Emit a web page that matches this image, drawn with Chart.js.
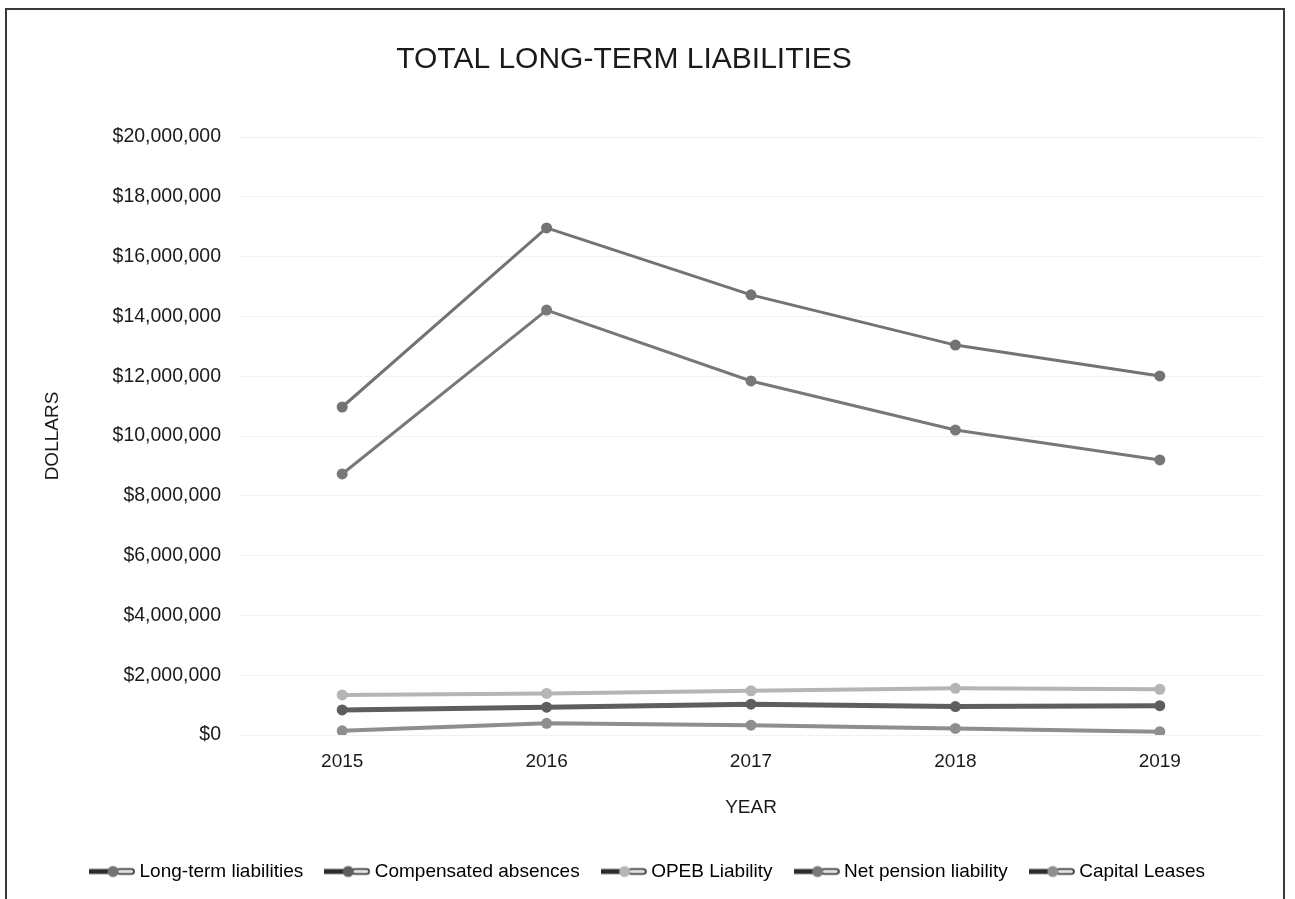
<!DOCTYPE html>
<html>
<head>
<meta charset="utf-8">
<title>Total Long-Term Liabilities</title>
<script src="https://cdn.jsdelivr.net/npm/chart.js@4.4.1/dist/chart.umd.min.js"></script>
<style>
  html, body { margin: 0; padding: 0; background: #fff; overflow: hidden; }
  #frame { position: absolute; left: 5px; top: 8px; width: 1276px; height: 900px; border: 2px solid #3a3a3a; }
  canvas { display: block; }
</style>
</head>
<body>
<div id="frame"><canvas id="liabChart" width="1276" height="889"></canvas></div>
<script>
// data (dollars)
const years = ['2015', '2016', '2017', '2018', '2019'];
const longTerm     = [10970000, 16960000, 14720000, 13040000, 12010000];
const compensated  = [840000, 930000, 1030000, 950000, 980000];
const opeb         = [1340000, 1390000, 1480000, 1560000, 1530000];
const netPension   = [8730000, 14210000, 11840000, 10200000, 9200000];
const capitalLease = [140000, 390000, 330000, 220000, 110000];
const yTickValues  = [0, 2000000, 4000000, 6000000, 8000000, 10000000, 12000000, 14000000, 16000000, 18000000, 20000000];

const FONT = "'Liberation Sans', Arial, sans-serif";

// legend swatch: thick line, dot, hollow tail (like the Excel legend)
function swatch(color) {
  const c = document.createElement('canvas');
  c.width = 46; c.height = 14;
  const g = c.getContext('2d');
  g.strokeStyle = '#2b2b2b';
  g.lineWidth = 5;
  g.beginPath(); g.moveTo(0, 7); g.lineTo(22, 7); g.stroke();
  g.fillStyle = '#e4e4e4';
  g.lineWidth = 1.5;
  g.beginPath(); g.roundRect(28, 4.5, 17, 5, 2.5); g.fill(); g.stroke();
  g.fillStyle = color;
  g.beginPath(); g.arc(24, 7, 5.5, 0, Math.PI * 2); g.fill();
  return c;
}

function series(label, data, color, width) {
  return {
    label: label,
    data: data,
    borderColor: color,
    backgroundColor: color,
    borderWidth: width,
    pointRadius: 5.5,
    pointHoverRadius: 5.5,
    pointBackgroundColor: color,
    pointBorderWidth: 0,
    pointStyle: 'circle',
    legendSwatch: swatch(color),
    tension: 0
  };
}

const titlePlugin = {
  id: 'pageTitle',
  afterDraw(chart) {
    const ctx = chart.ctx;
    ctx.save();
    ctx.font = '30px ' + FONT;
    ctx.fillStyle = '#1a1a1a';
    ctx.textAlign = 'center';
    ctx.textBaseline = 'middle';
    ctx.fillText('TOTAL LONG-TERM LIABILITIES', 617, 50);
    ctx.restore();
  }
};

new Chart(document.getElementById('liabChart'), {
  type: 'line',
  data: {
    labels: years,
    datasets: [
      series('Long-term liabilities', longTerm, '#737373', 3),
      series('Compensated absences', compensated, '#5e5e5e', 5),
      series('OPEB Liability', opeb, '#b5b5b5', 4),
      series('Net pension liability', netPension, '#787878', 3),
      series('Capital Leases', capitalLease, '#8e8e8e', 4)
    ]
  },
  options: {
    responsive: false,
    animation: false,
    layout: { padding: { left: 30, right: 21, top: 127, bottom: 8 } },
    plugins: {
      tooltip: { enabled: false },
      legend: {
        position: 'bottom',
        labels: {
          usePointStyle: true,
          pointStyleWidth: 36,
          padding: 26,
          color: '#1a1a1a',
          font: { family: FONT, size: 19 },
          generateLabels(chart) {
            return chart.data.datasets.map((ds, i) => ({
              text: ds.label,
              pointStyle: ds.legendSwatch,
              fillStyle: ds.borderColor,
              strokeStyle: ds.borderColor,
              lineWidth: 0,
              hidden: false,
              datasetIndex: i
            }));
          }
        }
      }
    },
    scales: {
      x: {
        offset: true,
        grid: { display: false },
        border: { display: false },
        ticks: { color: '#1a1a1a', padding: 7, font: { family: FONT, size: 19 } },
        title: { display: true, text: 'YEAR', color: '#1a1a1a', padding: { top: 4, bottom: 17 }, font: { family: FONT, size: 19 } },
        afterFit(scale) { scale.height = 101; }
      },
      y: {
        min: 0,
        max: 20000000,
        afterBuildTicks(scale) { scale.ticks = yTickValues.map(v => ({ value: v })); },
        grid: { color: '#f1f1f1', drawTicks: false },
        border: { display: false },
        ticks: {
          color: '#1a1a1a',
          padding: 19,
          font: { family: FONT, size: 19.5 },
          callback: v => '$' + Number(v).toLocaleString('en-US')
        },
        title: { display: true, text: 'DOLLARS', color: '#1a1a1a', padding: { top: 4, bottom: 4 }, font: { family: FONT, size: 19 } },
        afterFit(scale) { scale.width = 203; }
      }
    }
  },
  plugins: [titlePlugin]
});
</script>
</body>
</html>
